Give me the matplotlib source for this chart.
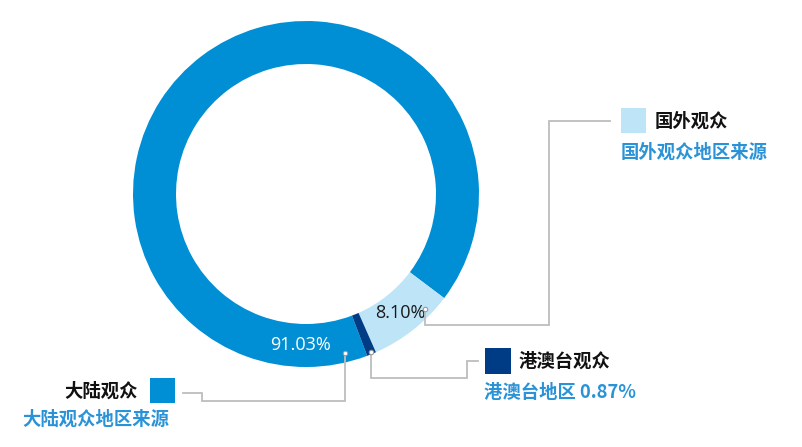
import matplotlib
matplotlib.use('Agg')
import matplotlib.pyplot as plt
import numpy as np
from matplotlib.patches import Rectangle

# ---- data ----
categories = ['大陆观众', '国外观众', '港澳台观众']
values = [91.03, 8.10, 0.87]
pct_labels = ['91.03%', '8.10%']
sub_labels = ['大陆观众地区来源', '国外观众地区来源', '港澳台地区 0.87%']
colors = ['#008ED4', '#BEE4F8', '#003B85']

CJK = ['Noto Sans CJK SC', 'DejaVu Sans']
TEXT_BLUE = '#2A93D8'
LINE_GRAY = '#BDBDBD'

W, H = 802, 447
fig = plt.figure(figsize=(W / 100, H / 100), dpi=100)
ax = fig.add_axes([0, 0, 1, 1])

def Y(y):
    return H - y

cx, cy = 306, Y(194)
R, RW = 173, 43
foreign_start = -37.0
start = foreign_start - 360 * (1 - values[0] / 100)

wedges, _ = ax.pie(values, colors=colors, startangle=start, counterclock=False,
                   radius=R, center=(cx, cy),
                   wedgeprops=dict(width=RW, linewidth=0))
ax.set_xlim(0, W)
ax.set_ylim(0, H)
ax.set_aspect('equal')
ax.axis('off')

def polar(angle, r):
    a = np.deg2rad(angle)
    return cx + r * np.cos(a), cy + r * np.sin(a)

def span(w):
    return min(w.theta1, w.theta2), max(w.theta1, w.theta2)

f_lo, f_hi = span(wedges[1])
h_lo, h_hi = span(wedges[2])
rm = R - RW / 2

# percentage labels
PF = ['Open Sans', 'DejaVu Sans']
x, y = polar(-92, rm)
ax.text(x, y, pct_labels[0], color='white', fontsize=13, family=PF,
        ha='center', va='center')
x, y = polar((f_lo + f_hi) / 2, rm)
ax.text(x, y, pct_labels[1], color='#1A1A1A', fontsize=13, family=PF,
        ha='center', va='center')

lw = 1.3

def connector(pts, dot):
    xs = [p[0] for p in pts]
    ys = [p[1] for p in pts]
    ax.plot(xs, ys, color=LINE_GRAY, lw=lw, solid_joinstyle='miter', zorder=3)
    ax.plot([dot[0]], [dot[1]], marker='o', ms=3.2, mfc='white', mec='#9A9A9A',
            mew=0.8, zorder=4)

# foreign connector
d = polar(f_hi - 7, R - 7)
connector([d, (d[0], Y(325)), (549, Y(325)), (549, Y(121)), (610, Y(121))], d)
# HK connector
d = polar((h_lo + h_hi) / 2, R - 2)
connector([d, (d[0], Y(378)), (467, Y(378)), (467, Y(361)), (478, Y(361))], d)
# mainland connector
d = polar(h_lo - 7, R - 9)
connector([d, (d[0], Y(401)), (202, Y(401)), (202, Y(393)), (183, Y(393))], d)

FS = 13.2

def square(x0, y0, size, color):
    ax.add_patch(Rectangle((x0, Y(y0 + size)), size, size, facecolor=color,
                           edgecolor='none', zorder=3))

# mainland
square(150, 378, 25, colors[0])
ax.text(138, Y(391), categories[0], family=CJK, fontsize=FS, fontweight='bold',
        color='#111111', ha='right', va='center')
ax.text(22, Y(419), sub_labels[0], family=CJK, fontsize=FS, fontweight='bold',
        color=TEXT_BLUE, ha='left', va='center')

# foreign
square(621, 108, 25, colors[1])
ax.text(655, Y(121), categories[1], family=CJK, fontsize=FS, fontweight='bold',
        color='#111111', ha='left', va='center')
ax.text(621, Y(152), sub_labels[1], family=CJK, fontsize=FS, fontweight='bold',
        color=TEXT_BLUE, ha='left', va='center')

# HK/Macao/Taiwan
square(485, 348, 26, colors[2])
ax.text(519, Y(361), categories[2], family=CJK, fontsize=FS, fontweight='bold',
        color='#111111', ha='left', va='center')
ax.text(484, Y(393), sub_labels[2], family=CJK, fontsize=FS, fontweight='bold',
        color=TEXT_BLUE, ha='left', va='center')

fig.savefig('out.png', dpi=100)
